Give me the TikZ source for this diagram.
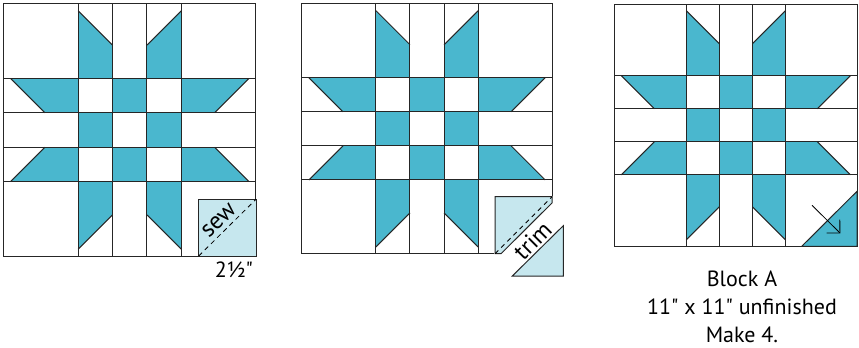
\documentclass[tikz,border=0pt]{standalone}
\usepackage{fontspec}
\setmainfont[Ligatures=TeXOff]{PT Sans}
\usetikzlibrary{arrows.meta}

\definecolor{quiltteal}{HTML}{4AB7CE}
\definecolor{quiltlight}{HTML}{C6E7EE}

\tikzset{
    seam/.style={draw=black!85,line width=0.75pt},
    sewline/.style={line width=0.6pt,dash pattern=on 3.5pt off 3pt},
    label/.style={font=\fontsize{16.5}{21}\selectfont,inner sep=0pt},
    cutlabel/.style={font=\fontsize{18}{21}\selectfont,inner sep=0pt,rotate=45},
}

% One 11 by 11 block, centred at #1/#2, with #3 units to the inch
\newcommand{\quiltblock}[3]{
    \begin{scope}[shift={(#1,#2)},scale=#3]
        % Star arms
        \foreach \sx in {1,-1}
            \foreach \sy in {1,-1} {
                \fill[quiltteal,xscale=\sx,yscale=\sy] (2.25,2.25) -- (2.25,5.2) -- (0.75,3.7) -- (0.75,2.25) -- cycle;
                \fill[quiltteal,xscale=\sx,yscale=\sy] (2.25,2.25) -- (5.2,2.25) -- (3.7,0.75) -- (2.25,0.75) -- cycle;
                \draw[seam,xscale=\sx,yscale=\sy] (2.25,5.2) -- (0.75,3.7);
                \draw[seam,xscale=\sx,yscale=\sy] (5.2,2.25) -- (3.7,0.75);
            }
        % Centre squares
        \fill[quiltteal] (-0.75,0.75) rectangle (0.75,2.25);
        \fill[quiltteal] (-0.75,-2.25) rectangle (0.75,-0.75);
        \fill[quiltteal] (-2.25,-0.75) rectangle (-0.75,0.75);
        \fill[quiltteal] (0.75,-0.75) rectangle (2.25,0.75);
        % Seams
        \foreach \p in {-2.25,-0.75,0.75,2.25} {
            \draw[seam] (\p,-5.5) -- (\p,5.5);
            \draw[seam] (-5.5,\p) -- (5.5,\p);
        }
        \draw[seam] (-5.5,-5.5) rectangle (5.5,5.5);
    \end{scope}
}

\begin{document}
\begin{tikzpicture}[x=0.75pt,y=0.75pt]
    \useasboundingbox (0,0) rectangle (859,347);

    % Blocks
    \quiltblock{129.75}{217}{22.95}
    \quiltblock{427}{218.15}{22.73}
    \quiltblock{735.85}{221.7}{22.03}

    % Sew square
    \coordinate (sewSW) at (198.7,91);
    \coordinate (sewNE) at (256,147.7);
    \filldraw[quiltlight,draw=black!85,line width=0.75pt] (sewSW) rectangle (sewNE);
    \draw[sewline] (sewSW) -- (sewNE);
    \node[cutlabel] (sew) at (219,126.5) {sew};
    \node[label] (size) at (234,77) {2½"};

    % Trim square with the corner cut off
    \fill[white] (494,92) rectangle (554,151);
    \coordinate (trimNW) at (495,150.3);
    \coordinate (trimNE) at (552,150.3);
    \coordinate (trimE) at (552,144);
    \coordinate (trimS) at (501,93.3);
    \coordinate (trimSW) at (495,93.3);
    \filldraw[quiltlight,draw=black!85,line width=0.75pt] (trimNW) -- (trimNE) -- (trimE) -- (trimS) -- (trimSW) -- cycle;
    \draw[sewline] (trimSW) -- (trimNE);

    % Cut off triangle
    \coordinate (cutW) at (512.3,71);
    \coordinate (cutE) at (563.3,71);
    \coordinate (cutN) at (563.3,121.3);
    \filldraw[quiltlight,draw=black!85,line width=0.75pt] (cutW) -- (cutE) -- (cutN) -- cycle;
    \node[cutlabel] (trim) at (532.5,106.5) {trim};

    % Pressed corner and arrow
    \coordinate (pressW) at (801.7,100.7);
    \coordinate (pressE) at (857,100.7);
    \coordinate (pressN) at (857,155.7);
    \filldraw[quiltteal,draw=black!85,line width=0.75pt] (pressW) -- (pressE) -- (pressN) -- cycle;
    \coordinate (arrowStart) at (812,141.7);
    \coordinate (arrowEnd) at (840.3,113.7);
    \draw[-{Straight Barb[length=7pt,width=14pt]},line width=0.6pt] (arrowStart) -- (arrowEnd);

    % Block caption
    \node[label,align=center] (caption) at (742,40) {Block A\\11" x 11" unfinished\\Make 4.};
\end{tikzpicture}
\end{document}
